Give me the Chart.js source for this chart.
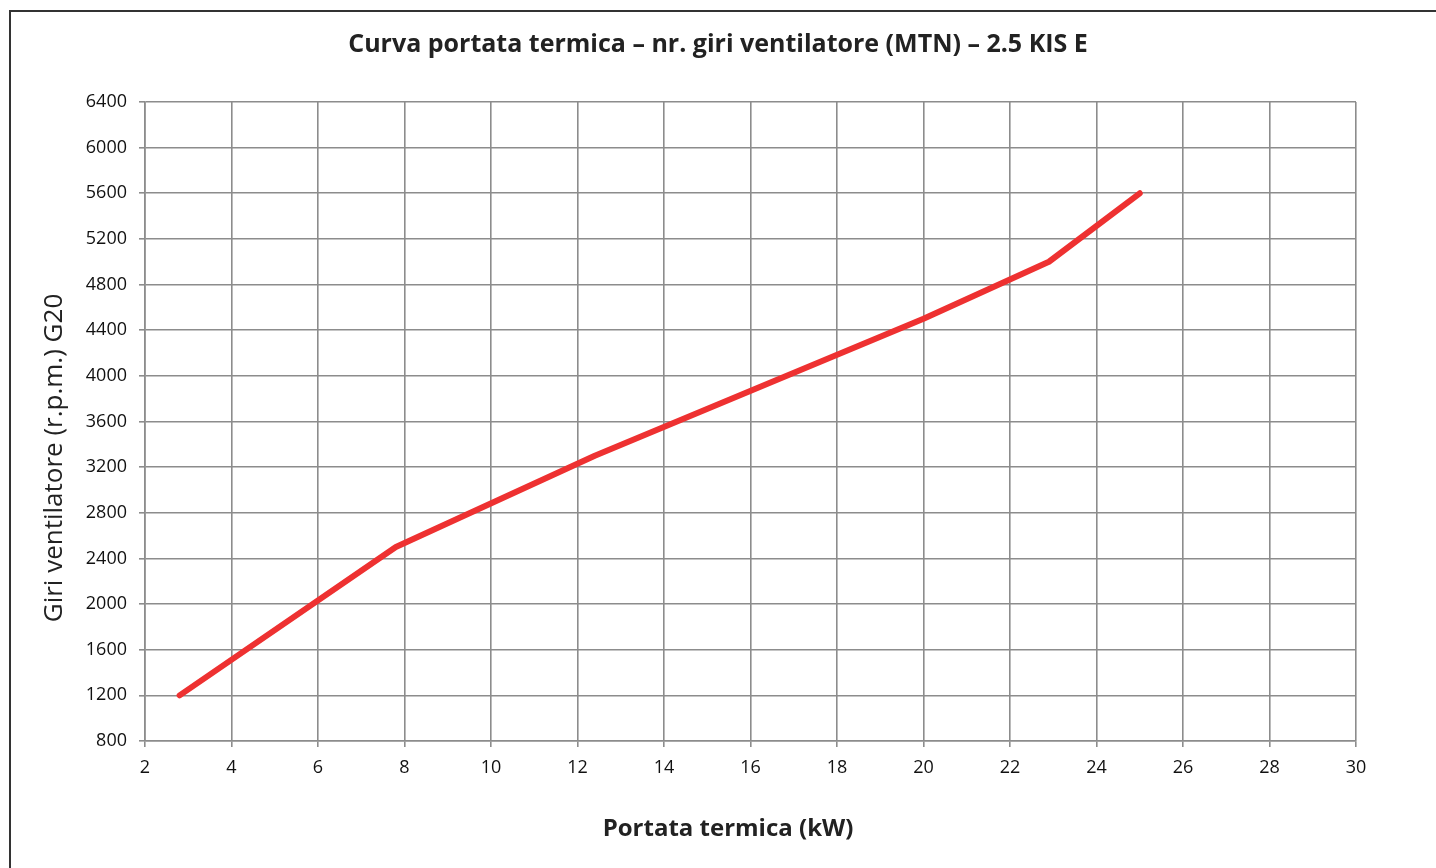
<!DOCTYPE html>
<html>
<head>
<meta charset="utf-8">
<script src="https://cdn.jsdelivr.net/npm/chart.js@4/dist/chart.umd.min.js"></script>
<style>
  html, body { margin: 0; padding: 0; background: #fff; overflow: hidden; }
  #frame {
    position: absolute; left: 9px; top: 10px; width: 1500px; height: 900px;
    border: 2px solid #333; box-sizing: border-box;
  }
  #wrap { position: absolute; left: 0; top: 0; width: 1436px; height: 868px; }
</style>
</head>
<body>
<div id="frame"></div>
<div id="wrap"><canvas id="fanChart" width="1436" height="868"></canvas></div>
<script>
// heat input (kW) vs fan speed (rpm), G20
const portata = [2.8, 7.8, 12.4, 20, 22.9, 25];
const giri = [1200, 2500, 3300, 4500, 5000, 5600];

const xMin = 2, xMax = 30, xStep = 2;
const yMin = 800, yMax = 6400, yStep = 400;

const chartTitle = 'Curva portata termica – nr. giri ventilatore (MTN) – 2.5 KIS E';
const xTitle = 'Portata termica (kW)';
const yTitle = 'Giri ventilatore (r.p.m.) G20';

const gridColor = '#8c8c8c';
const fontFamily = '"Open Sans", "Noto Sans", sans-serif';

const points = portata.map((p, i) => ({ x: p, y: giri[i] }));

// titles are placed by hand, they are not centred on the plot area
const titlesPlugin = {
    id: 'titles',
    afterDraw: (chart) => {
        const c = chart.ctx;
        c.save();
        c.fillStyle = '#222';
        c.textAlign = 'center';
        c.textBaseline = 'middle';

        c.font = 'bold 25px ' + fontFamily;
        c.fillText(chartTitle, 718, 45);

        c.font = 'bold 24px ' + fontFamily;
        c.fillText(xTitle, 728, 829);

        c.translate(55, 458);
        c.rotate(-Math.PI / 2);
        c.font = '26px ' + fontFamily;
        c.fillText(yTitle, 0, 0);
        c.restore();
    },
};

const ctx = document.getElementById('fanChart');
const fanChart = new Chart(ctx, {
    type: 'line',
    data: {
        datasets: [
            {
                label: 'G20',
                data: points,
                borderColor: '#ee3131',
                borderWidth: 6,
                borderCapStyle: 'round',
                borderJoinStyle: 'round',
                pointRadius: 0,
                tension: 0,
                fill: false,
            },
        ],
    },
    plugins: [titlesPlugin],
    options: {
        responsive: false,
        animation: false,
        layout: {
            padding: { left: 0, top: 102, right: 80, bottom: 0 },
        },
        plugins: {
            legend: { display: false },
            tooltip: { enabled: false },
            title: { display: false },
        },
        scales: {
            x: {
                type: 'linear',
                min: xMin,
                max: xMax,
                afterFit: (scale) => { scale.height = 127; },
                ticks: {
                    stepSize: xStep,
                    color: '#111',
                    padding: 10,
                    maxRotation: 0,
                    font: { family: fontFamily, size: 18 },
                    callback: (v) => String(v),
                },
                grid: { color: gridColor, lineWidth: 1.6, tickLength: 6 },
                border: { color: gridColor, width: 1.6 },
            },
            y: {
                type: 'linear',
                min: yMin,
                max: yMax,
                afterFit: (scale) => { scale.width = 145; },
                ticks: {
                    stepSize: yStep,
                    color: '#111',
                    padding: 12,
                    font: { family: fontFamily, size: 18 },
                    callback: (v) => String(v),
                },
                grid: { color: gridColor, lineWidth: 1.6, tickLength: 6 },
                border: { color: gridColor, width: 1.6 },
            },
        },
    },
});
</script>
</body>
</html>
